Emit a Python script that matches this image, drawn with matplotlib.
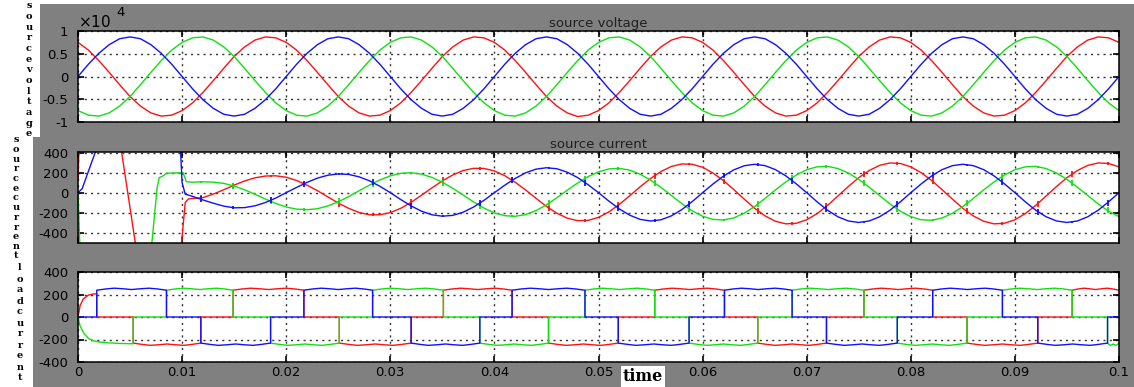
import numpy as np
import matplotlib.pyplot as plt
from matplotlib.patches import Rectangle

# ---- data ----
# source voltage (x 1e4 V), sampled every 1 ms from 0 to 100 ms
v_time_ms = np.arange(0, 101)
v_red = [0.75, 0.58, 0.35, 0.09, -0.18, -0.44, -0.65, -0.80, -0.87, -0.85, -0.75, -0.58, -0.35, -0.09, 0.18, 0.44, 0.65, 0.80, 0.87, 0.85,
         0.75, 0.58, 0.35, 0.09, -0.18, -0.44, -0.65, -0.80, -0.87, -0.85, -0.75, -0.58, -0.35, -0.09, 0.18, 0.44, 0.65, 0.80, 0.87, 0.85,
         0.75, 0.58, 0.35, 0.09, -0.18, -0.44, -0.65, -0.80, -0.88, -0.85, -0.75, -0.58, -0.35, -0.09, 0.18, 0.44, 0.65, 0.80, 0.87, 0.85,
         0.75, 0.58, 0.35, 0.09, -0.18, -0.44, -0.65, -0.80, -0.87, -0.85, -0.75, -0.58, -0.35, -0.09, 0.18, 0.44, 0.65, 0.80, 0.87, 0.85,
         0.75, 0.58, 0.35, 0.09, -0.18, -0.44, -0.65, -0.80, -0.87, -0.85, -0.75, -0.58, -0.35, -0.09, 0.18, 0.44, 0.65, 0.80, 0.87, 0.85,
         0.75]
v_green = [-0.75, -0.85, -0.87, -0.80, -0.65, -0.44, -0.18, 0.09, 0.35, 0.58, 0.75, 0.85, 0.87, 0.80, 0.65, 0.44, 0.18, -0.09, -0.35, -0.58,
           -0.75, -0.85, -0.87, -0.80, -0.65, -0.44, -0.18, 0.09, 0.35, 0.58, 0.75, 0.85, 0.87, 0.80, 0.65, 0.44, 0.18, -0.09, -0.35, -0.58,
           -0.75, -0.85, -0.87, -0.80, -0.65, -0.44, -0.18, 0.09, 0.35, 0.58, 0.75, 0.85, 0.87, 0.80, 0.65, 0.44, 0.18, -0.09, -0.35, -0.58,
           -0.75, -0.85, -0.87, -0.80, -0.65, -0.44, -0.18, 0.09, 0.35, 0.58, 0.75, 0.85, 0.87, 0.80, 0.65, 0.44, 0.18, -0.09, -0.35, -0.58,
           -0.75, -0.85, -0.87, -0.80, -0.65, -0.44, -0.18, 0.09, 0.35, 0.58, 0.75, 0.85, 0.87, 0.80, 0.65, 0.44, 0.18, -0.09, -0.35, -0.58,
           -0.75]
v_blue = [0.00, 0.27, 0.51, 0.70, 0.83, 0.87, 0.83, 0.70, 0.51, 0.27, 0.00, -0.27, -0.51, -0.70, -0.83, -0.87, -0.83, -0.70, -0.51, -0.27,
          0.00, 0.27, 0.51, 0.70, 0.83, 0.87, 0.83, 0.70, 0.51, 0.27, 0.00, -0.27, -0.51, -0.70, -0.83, -0.87, -0.83, -0.70, -0.51, -0.27,
          0.00, 0.27, 0.51, 0.70, 0.83, 0.87, 0.83, 0.70, 0.51, 0.27, 0.00, -0.27, -0.51, -0.70, -0.83, -0.87, -0.83, -0.70, -0.51, -0.27,
          0.00, 0.27, 0.51, 0.70, 0.83, 0.87, 0.83, 0.70, 0.51, 0.27, 0.00, -0.27, -0.51, -0.70, -0.83, -0.87, -0.83, -0.70, -0.51, -0.27,
          0.00, 0.27, 0.51, 0.70, 0.83, 0.87, 0.83, 0.70, 0.51, 0.27, 0.00, -0.27, -0.51, -0.70, -0.83, -0.87, -0.83, -0.70, -0.51, -0.27,
          0.00]

# source current (A): start-up transient (irregular times, ms) then 1 ms samples from 11 to 100 ms
i_red_t0 = [0, 0.15, 3.9, 4.2, 5.5, 5.8, 9.8, 9.95, 10.3, 10.6]
i_red_v0 = [130, 600, 560, 400, -500, -620, -700, -500, -100, -63]
i_green_t0 = [0, 0.2, 6.9, 7.1, 7.6, 7.8, 8.2, 8.5, 10.1, 10.4]
i_green_v0 = [0, -600, -700, -500, 50, 150, 170, 195, 200, 110]
i_blue_t0 = [0, 0.4, 1.64, 2.0, 9.75, 9.85, 10.0, 10.3]
i_blue_v0 = [0, 40, 400, 520, 800, 420, 100, -15]

i_time_ms = np.arange(11, 101)
i_red = [-58, -50, -14, 29, 76, 117, 149, 167, 169,
         155, 122, 75, 20, -42, -104, -157, -199, -222, -222,
         -200, -157, -97, -25, 48, 118, 178, 222, 244, 243,
         218, 170, 104, 27, -57, -138, -206, -256, -281, -278,
         -248, -193, -118, -31, 59, 142, 212, 263, 288, 285,
         255, 197, 121, 31, -65, -157, -233, -287, -313, -307,
         -272, -210, -128, -33, 62, 150, 222, 274, 298, 293,
         259, 200, 122, 31, -65, -157, -233, -287, -313, -307,
         -272, -210, -128, -33, 62, 150, 222, 274, 298, 293,
         259]
i_green = [105, 109, 106, 93, 67, 29, -16, -64, -108,
           -144, -165, -171, -161, -133, -92, -39, 19, 76, 128,
           169, 194, 200, 186, 153, 105, 44, -24, -93, -155,
           -203, -231, -237, -220, -180, -122, -51, 25, 97, 161,
           209, 238, 244, 226, 185, 126, 53, -28, -110, -182,
           -237, -268, -274, -253, -206, -139, -58, 28, 108, 177,
           230, 259, 264, 242, 197, 133, 55, -29, -113, -186,
           -241, -272, -277, -254, -207, -139, -58, 28, 108, 177,
           230, 259, 264, 242, 197, 133, 55, -29, -113, -186,
           -241]
i_blue = [-37, -73, -106, -135, -152, -150, -132, -99, -54,
          0, 53, 103, 146, 175, 188, 183, 159, 119, 64,
          0, -69, -133, -186, -222, -236, -228, -196, -144, -77,
          0, 75, 143, 199, 236, 250, 240, 205, 151, 80,
          0, -85, -163, -226, -268, -284, -272, -233, -170, -90,
          0, 87, 166, 229, 270, 285, 271, 231, 168, 88,
          0, -92, -176, -242, -284, -299, -284, -242, -176, -92,
          0, 88, 168, 231, 271, 285, 271, 231, 168, 88,
          0, -92, -176, -242, -284, -299, -284, -242, -176, -92,
          0]

# load current: which phase carries +I / -I after each switching instant (s)
pos_times = [0.0, 0.0018, 0.0085, 0.0149, 0.0217, 0.0283, 0.0351, 0.0417,
             0.0487, 0.0554, 0.0621, 0.0686, 0.0755, 0.0821, 0.0888, 0.0955]
pos_phase = ['red', 'blue', 'green', 'red', 'blue', 'green', 'red', 'blue',
             'green', 'red', 'blue', 'green', 'red', 'blue', 'green', 'red']
neg_times = [0.0, 0.0053, 0.0118, 0.0185, 0.0251, 0.0320, 0.0386, 0.0452,
             0.0519, 0.0587, 0.0653, 0.0719, 0.0787, 0.0854, 0.0922, 0.0989]
neg_phase = ['green', 'red', 'blue', 'green', 'red', 'blue', 'green', 'red',
             'blue', 'green', 'red', 'blue', 'green', 'red', 'blue', 'green']
# shape of one conduction block (fraction of block length -> A), two ripple humps
block_frac = [0, 0.125, 0.25, 0.375, 0.5, 0.625, 0.75, 0.875, 1]
block_pos = [238, 249, 256, 251, 244, 251, 256, 249, 238]
block_neg = [-232, -243, -252, -247, -240, -247, -252, -243, -232]
# start-up of the load current (s, A)
load_start = {
    'red': ([0.0, 0.0002, 0.0005, 0.001, 0.0015, 0.0018], [0, 100, 160, 195, 205, 205]),
    'green': ([0.0, 0.0002, 0.0006, 0.001, 0.0015, 0.002, 0.003, 0.004, 0.0053],
              [0, -80, -150, -190, -212, -222, -230, -235, -238]),
}

colors = {'red': '#ff1010', 'green': '#10e010', 'blue': '#1010ff'}

W, H = 1134, 387
fig = plt.figure(figsize=(W / 100, H / 100), dpi=100)
fig.patch.set_facecolor('#808080')


def axes_px(left, top, right, bottom):
    return fig.add_axes([left / W, 1 - bottom / H, (right - left) / W, (bottom - top) / H])


ax1 = axes_px(78, 31, 1119, 122)
ax2 = axes_px(78, 152, 1119, 243)
ax3 = axes_px(78, 272, 1119, 362)

# source voltage
t_v = v_time_ms / 1000
for name, vals in [('red', v_red), ('green', v_green), ('blue', v_blue)]:
    ax1.plot(t_v, vals, color=colors[name], lw=1.0)

# source current
i_data = {
    'red': (np.concatenate([i_red_t0, i_time_ms]) / 1000, np.concatenate([i_red_v0, i_red])),
    'green': (np.concatenate([i_green_t0, i_time_ms]) / 1000, np.concatenate([i_green_v0, i_green])),
    'blue': (np.concatenate([i_blue_t0, i_time_ms]) / 1000, np.concatenate([i_blue_v0, i_blue])),
}
for name in ['red', 'green', 'blue']:
    ax2.plot(i_data[name][0], i_data[name][1], color=colors[name], lw=1.0)

# small commutation spikes on the source currents
switches = []
for lst_t, lst_p in [(pos_times, pos_phase), (neg_times, neg_phase)]:
    for k in range(1, len(lst_t)):
        switches.append((lst_t[k], lst_p[k - 1], lst_p[k]))
for ts, p_from, p_to in switches:
    if ts < 0.011:
        continue
    for name in ['red', 'green', 'blue']:
        y = np.interp(ts, i_data[name][0], i_data[name][1])
        half = 30 if name in (p_from, p_to) else 12
        ax2.vlines(ts, y - half, y + half, color=colors[name], lw=1.3)

# load current (120 degree conduction blocks)
for name in ['red', 'green', 'blue']:
    blocks = []
    for lst_t, lst_p, shape in [(pos_times, pos_phase, block_pos), (neg_times, neg_phase, block_neg)]:
        ends = lst_t[1:] + [0.1]
        for a, b, p in zip(lst_t, ends, lst_p):
            if p == name:
                blocks.append((a, b, shape))
    blocks.sort()
    xs, ys = [], []
    cursor = 0.0
    for a, b, shape in blocks:
        if a > cursor:
            xs += [cursor, a]
            ys += [0, 0]
        if a == 0.0 and name in load_start:
            xs += load_start[name][0]
            ys += load_start[name][1]
        else:
            xs += [a + f * (b - a) for f in block_frac]
            ys += shape
        cursor = b
    if cursor < 0.1:
        xs += [cursor, 0.1]
        ys += [0, 0]
    ax3.plot(xs, ys, color=colors[name], lw=1.0)

# axes styling (scope look)
xt = [0, 0.01, 0.02, 0.03, 0.04, 0.05, 0.06, 0.07, 0.08, 0.09, 0.1]
for ax in (ax1, ax2, ax3):
    ax.set_facecolor('white')
    ax.set_xlim(0, 0.1)
    ax.set_xticks(xt)
    ax.tick_params(direction='in', top=True, right=True, length=4, width=1.2,
                   labelsize=9.5, pad=7, colors='black')
    ax.grid(True, color='black', linestyle=(0, (1.5, 3)), lw=1.0, alpha=0.8)
    for s in ax.spines.values():
        s.set_linewidth(1.1)
ax1.set_xticklabels([])
ax2.set_xticklabels([])
ax3.set_xticklabels(['0', '0.01', '0.02', '0.03', '0.04', '0.05', '0.06', '0.07', '0.08', '0.09', '0.1'])
ax3.tick_params(axis='x', pad=3)

ax1.set_ylim(-1, 1)
ax1.set_yticks([-1, -0.5, 0, 0.5, 1])
ax1.set_yticklabels(['-1', '-0.5', '0', '0.5', '1'])
ax2.set_ylim(-505, 408)
ax2.set_yticks([-400, -200, 0, 200, 400])
ax2.set_yticklabels(['-400', '-200', '0', '200', '400'])
ax3.set_ylim(-400, 400)
ax3.set_yticks([-400, -200, 0, 200, 400])
ax3.set_yticklabels(['-400', '-200', '0', '200', '400'])

ax1.set_title('source voltage', fontsize=9.5, pad=3, color='#202020')
ax2.set_title('source current', fontsize=9.5, pad=3, color='#202020')

# exponent of the voltage axis
fig.text(78 / W, 1 - 22 / H, r'$\times$10', fontsize=11, va='center', ha='left')
fig.text(116 / W, 1 - 12 / H, '4', fontsize=9.5, va='center', ha='left')

# white strip at the very top
fig.patches.append(Rectangle((0, 1 - 4 / H), 1, 4 / H, transform=fig.transFigure,
                             facecolor='white', edgecolor='none'))

# stacked y labels on white strips
for label, x, y0, y1, box in [('sourcevoltage', 29, 6, 134, (0, 4, 40, 137)),
                               ('sourcecurrent', 16, 140, 256, (0, 137, 33, 262)),
                               ('loadcurrent', 20, 268, 378, (0, 262, 33, 387))]:
    bx0, by0, bx1, by1 = box
    fig.patches.append(Rectangle((bx0 / W, 1 - by1 / H), (bx1 - bx0) / W, (by1 - by0) / H,
                                 transform=fig.transFigure, facecolor='white',
                                 edgecolor='none', zorder=5))
    step = (y1 - y0) / (len(label) - 1)
    for k, ch in enumerate(label):
        fig.text(x / W, 1 - (y0 + k * step) / H, ch, fontsize=7, fontweight='bold',
                 family='DejaVu Serif', ha='center', va='center', zorder=6)

# x label at the bottom edge
fig.text(643 / W, 1 - 385 / H, 'time', fontsize=11.5, fontweight='bold', family='DejaVu Serif',
         ha='center', va='bottom',
         bbox=dict(facecolor='white', edgecolor='none', pad=1.5))

fig.savefig('out.png', dpi=100, facecolor=fig.get_facecolor())
